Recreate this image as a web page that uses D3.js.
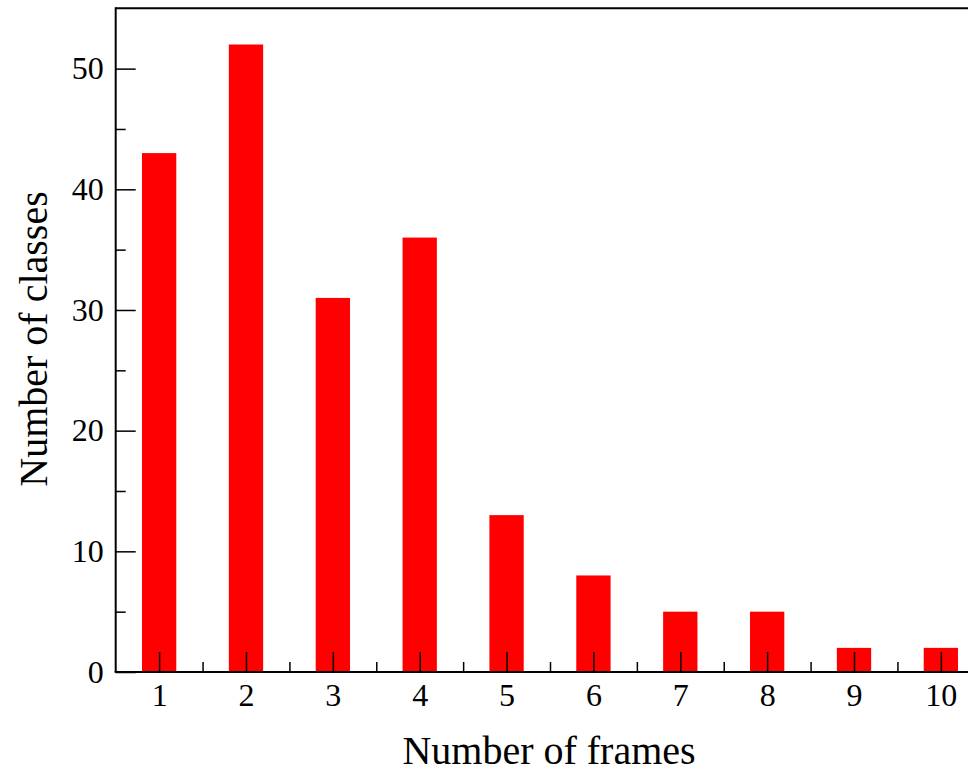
<!DOCTYPE html>
<html>
<head>
	<meta charset="utf-8">
	<title>Number of classes per number of frames</title>
	<script src="https://d3js.org/d3.v7.min.js"></script>
	<style>
		body { margin: 0; background: #fff; }
		svg { display: block; }
		text { font-family: "Liberation Serif", "Times New Roman", serif; fill: #000; }
		.axis path, .axis line { stroke: #000; }
	</style>
</head>
<body>
	<div id="chart"></div>
	<script type="text/javascript">

		// data
		var frames = [1, 2, 3, 4, 5, 6, 7, 8, 9, 10];
		var classes = [43, 52, 31, 36, 13, 8, 5, 5, 2, 2];
		var yMajorTicks = [0, 10, 20, 30, 40, 50];
		var yMinorTicks = [5, 15, 25, 35, 45];
		var xMinorTicks = [1.5, 2.5, 3.5, 4.5, 5.5, 6.5, 7.5, 8.5, 9.5];

		var width = 968, height = 773;
		var plotLeft = 115.7, plotTop = 8.3, plotBottom = 672;
		var step = 86.86;

		var svg = d3.select("#chart").append("svg")
			.attr("width", width)
			.attr("height", height);

		svg.append("rect")
			.attr("width", width)
			.attr("height", height)
			.attr("fill", "#fff");

		// scales
		var x = d3.scaleLinear()
			.domain([0.5, 10.5])
			.range([plotLeft, plotLeft + 10 * step]);

		var y = d3.scaleLinear()
			.domain([0, 55])
			.range([plotBottom, plotTop]);

		// bars
		var barW = step * 0.395;
		svg.selectAll("rect.bar")
			.data(frames)
			.enter()
			.append("rect")
			.attr("class", "bar")
			.attr("x", function(d) { return x(d) - barW / 2; })
			.attr("width", barW)
			.attr("y", function(d, i) { return y(classes[i]); })
			.attr("height", function(d, i) { return plotBottom - y(classes[i]); })
			.attr("fill", "#ff0000");

		// frame (top and left)
		svg.append("line")
			.attr("x1", plotLeft).attr("x2", width + 5)
			.attr("y1", plotTop).attr("y2", plotTop)
			.attr("stroke", "#000").attr("stroke-width", 2);
		svg.append("line")
			.attr("x1", plotLeft).attr("x2", plotLeft)
			.attr("y1", plotTop - 1).attr("y2", plotBottom)
			.attr("stroke", "#000").attr("stroke-width", 2);

		// x axis, ticks point inward
		var xAxis = svg.append("g")
			.attr("class", "axis")
			.attr("transform", "translate(0," + plotBottom + ")")
			.call(d3.axisBottom(x)
				.tickValues(frames)
				.tickFormat(d3.format("d"))
				.tickSizeInner(-20)
				.tickSizeOuter(0)
				.tickPadding(11.3));
		xAxis.selectAll("text").style("font-size", "32px");
		xAxis.selectAll("line").attr("stroke-width", 1.5);
		xAxis.select(".domain").attr("stroke-width", 2)
			.attr("d", "M" + (plotLeft - 1) + ",0H" + (width + 5));

		svg.append("g")
			.attr("class", "axis")
			.attr("transform", "translate(0," + plotBottom + ")")
			.call(d3.axisBottom(x)
				.tickValues(xMinorTicks)
				.tickFormat("")
				.tickSizeInner(-10)
				.tickSizeOuter(0))
			.call(function(g) { g.select(".domain").remove(); })
			.selectAll("line").attr("stroke-width", 1.5);

		// y axis
		var yAxis = svg.append("g")
			.attr("class", "axis")
			.attr("transform", "translate(" + plotLeft + ",0)")
			.call(d3.axisLeft(y)
				.tickValues(yMajorTicks)
				.tickFormat(d3.format("d"))
				.tickSizeInner(-20)
				.tickSizeOuter(0)
				.tickPadding(12));
		yAxis.selectAll("text").style("font-size", "32px");
		yAxis.selectAll("line").attr("stroke-width", 1.5);
		yAxis.select(".domain").remove();

		svg.append("g")
			.attr("class", "axis")
			.attr("transform", "translate(" + plotLeft + ",0)")
			.call(d3.axisLeft(y)
				.tickValues(yMinorTicks)
				.tickFormat("")
				.tickSizeInner(-10)
				.tickSizeOuter(0))
			.call(function(g) { g.select(".domain").remove(); })
			.selectAll("line").attr("stroke-width", 1.5);

		// axis titles
		svg.append("text")
			.attr("x", 549)
			.attr("y", 764)
			.attr("text-anchor", "middle")
			.style("font-size", "40px")
			.text("Number of frames");

		svg.append("text")
			.attr("transform", "translate(47,339) rotate(-90)")
			.attr("text-anchor", "middle")
			.style("font-size", "40px")
			.text("Number of classes");

	</script>
</body>
</html>
